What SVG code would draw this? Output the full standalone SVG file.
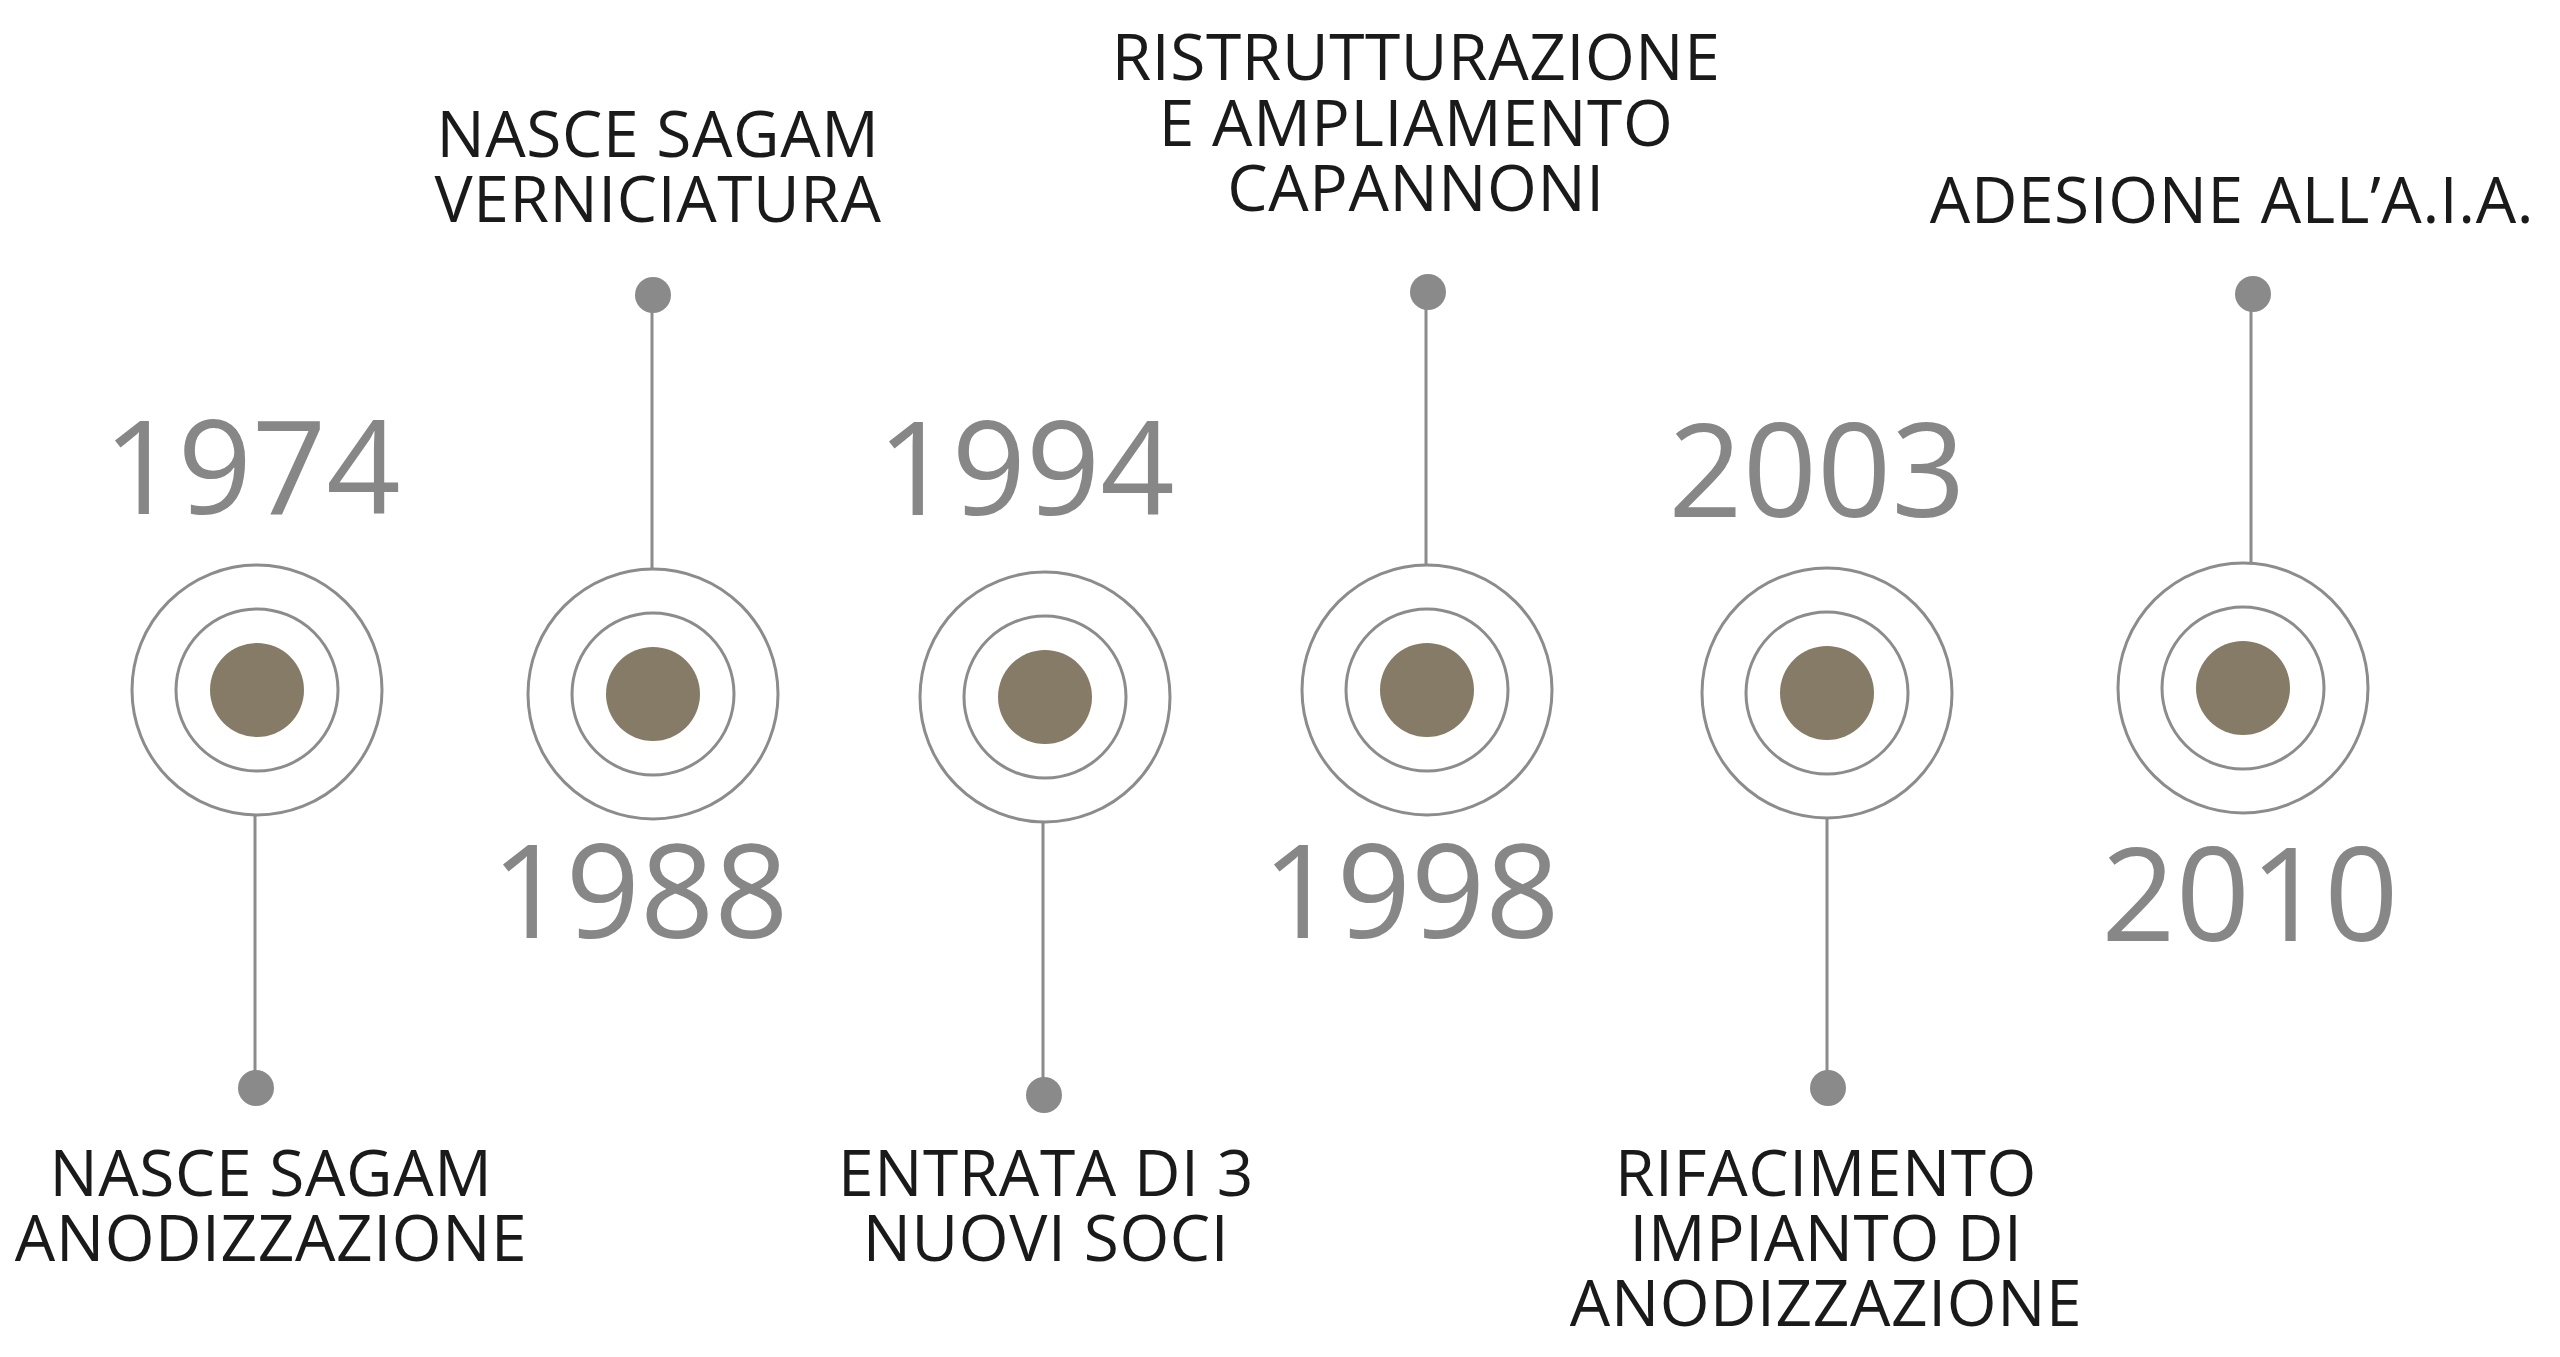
<svg xmlns="http://www.w3.org/2000/svg" width="2560" height="1357" viewBox="0 0 2560 1357">
  <style>
    .ring { fill: none; stroke: #8c8c8c; stroke-width: 3; }
    .core { fill: #857b66; }
    .dot { fill: #8a8a8a; }
    .conn { stroke: #8c8c8c; stroke-width: 3; fill: none; }
    .year { font-family: "Open Sans", "Liberation Sans", sans-serif; font-size: 130px; fill: #878787; text-anchor: middle; }
    .label { font-family: "Open Sans", "Liberation Sans", sans-serif; font-size: 64px; fill: #1a1a1a; text-anchor: middle; letter-spacing: 0.6px; }
  </style>
  <defs>
    <g id="target">
      <circle class="ring" r="125"/>
      <circle class="ring" r="81"/>
      <circle class="core" r="47"/>
    </g>
  </defs>
  <rect width="2560" height="1357" fill="#ffffff"/>

  <g id="connectors">
    <line class="conn" x1="255" y1="816" x2="255" y2="1088"/>
    <line class="conn" x1="652" y1="568" x2="652" y2="295"/>
    <line class="conn" x1="1043" y1="822" x2="1043" y2="1095"/>
    <line class="conn" x1="1426" y1="565" x2="1426" y2="292"/>
    <line class="conn" x1="1827" y1="818" x2="1827" y2="1088"/>
    <line class="conn" x1="2251" y1="563" x2="2251" y2="294"/>
    <circle class="dot" cx="256" cy="1088" r="18"/>
    <circle class="dot" cx="653" cy="295" r="18"/>
    <circle class="dot" cx="1044" cy="1095" r="18"/>
    <circle class="dot" cx="1428" cy="292" r="18"/>
    <circle class="dot" cx="1828" cy="1088" r="18"/>
    <circle class="dot" cx="2253" cy="294" r="18"/>
  </g>

  <g id="node-1974">
    <use href="#target" x="257" y="690"/>
    <text class="year" x="252" y="514">1974</text>
    <text class="label" x="271" y="1196">NASCE SAGAM<tspan x="271" dy="65">ANODIZZAZIONE</tspan></text>
  </g>

  <g id="node-1988">
    <use href="#target" x="653" y="694"/>
    <text class="year" x="640" y="938">1988</text>
    <text class="label" x="658" y="157">NASCE SAGAM<tspan x="658" dy="65">VERNICIATURA</tspan></text>
  </g>

  <g id="node-1994">
    <use href="#target" x="1045" y="697"/>
    <text class="year" x="1026" y="515">1994</text>
    <text class="label" x="1046" y="1196">ENTRATA DI 3<tspan x="1046" dy="65">NUOVI SOCI</tspan></text>
  </g>

  <g id="node-1998">
    <use href="#target" x="1427" y="690"/>
    <text class="year" x="1411" y="938">1998</text>
    <text class="label" x="1416" y="80">RISTRUTTURAZIONE<tspan x="1416" dy="66">E AMPLIAMENTO</tspan><tspan x="1416" dy="65">CAPANNONI</tspan></text>
  </g>

  <g id="node-2003">
    <use href="#target" x="1827" y="693"/>
    <text class="year" x="1817" y="517">2003</text>
    <text class="label" x="1826" y="1196">RIFACIMENTO<tspan x="1826" dy="65">IMPIANTO DI</tspan><tspan x="1826" dy="65">ANODIZZAZIONE</tspan></text>
  </g>

  <g id="node-2010">
    <use href="#target" x="2243" y="688"/>
    <text class="year" x="2250" y="941">2010</text>
    <text class="label" x="2232" y="223">ADESIONE ALL’A.I.A.</text>
  </g>
</svg>
